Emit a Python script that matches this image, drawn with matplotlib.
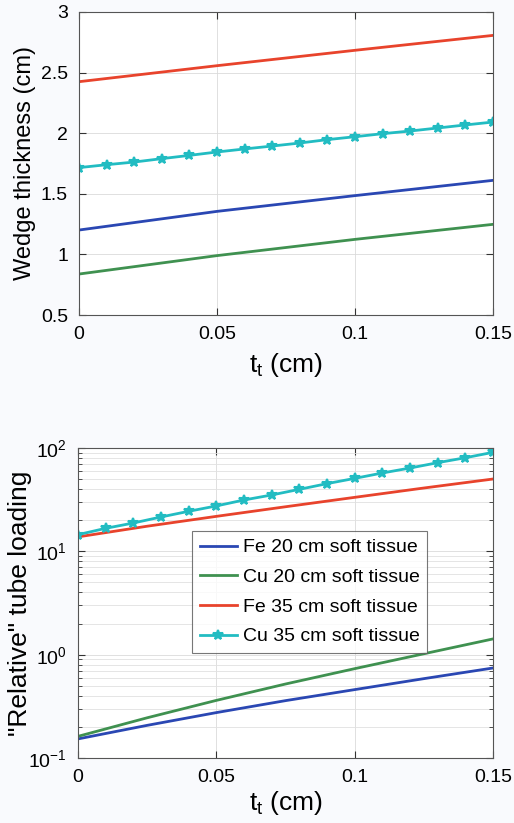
import numpy as np
import matplotlib.pyplot as plt

plt.rcParams['font.family'] = ['Liberation Sans', 'DejaVu Sans']

# top panel: wedge thickness (cm)
t_coarse = [0.0, 0.05, 0.1, 0.15]
wedge_fe20 = [1.201, 1.355, 1.485, 1.611]
wedge_cu20 = [0.838, 0.990, 1.124, 1.248]
wedge_fe35 = [2.425, 2.557, 2.684, 2.807]
t_fine = [0.0, 0.01, 0.02, 0.03, 0.04, 0.05, 0.06, 0.07, 0.08,
          0.09, 0.10, 0.11, 0.12, 0.13, 0.14, 0.15]
wedge_cu35 = [1.716, 1.740, 1.762, 1.790, 1.817, 1.845, 1.870, 1.894,
              1.919, 1.947, 1.971, 1.996, 2.018, 2.043, 2.068, 2.092]

# bottom panel: relative tube loading
t_mid = [0.0, 0.025, 0.05, 0.075, 0.1, 0.125, 0.15]
load_fe20 = [0.153, 0.207, 0.275, 0.359, 0.459, 0.586, 0.743]
load_cu20 = [0.162, 0.245, 0.361, 0.52, 0.732, 1.02, 1.42]
load_fe35 = [13.8, 17.5, 21.8, 27.0, 33.3, 41.0, 50.1]
load_cu35 = [14.5, 16.7, 18.8, 21.5, 24.4, 27.5, 31.4, 35.1,
             39.8, 45.2, 50.8, 57.3, 64.0, 72.1, 80.5, 90.8]

labels = ['Fe 20 cm soft tissue', 'Cu 20 cm soft tissue',
          'Fe 35 cm soft tissue', 'Cu 35 cm soft tissue']
colors = ['#2a47b3', '#3f9150', '#e8432c', '#22bcc2']

fig = plt.figure(figsize=(5.14, 8.23), dpi=100, facecolor='#f9fafd')
ax1 = fig.add_axes([79/514, 1 - 315/823, 414/514, 303/823])
ax2 = fig.add_axes([78/514, 1 - 758/823, 415/514, 310/823])

lw = 2.0
ax1.plot(t_coarse, wedge_fe20, color=colors[0], lw=lw)
ax1.plot(t_coarse, wedge_cu20, color=colors[1], lw=lw)
ax1.plot(t_coarse, wedge_fe35, color=colors[2], lw=lw)
ax1.plot(t_fine, wedge_cu35, color=colors[3], lw=lw, marker='*', ms=7, mew=1.5)

ax2.plot(t_mid, load_fe20, color=colors[0], lw=lw, label=labels[0])
ax2.plot(t_mid, load_cu20, color=colors[1], lw=lw, label=labels[1])
ax2.plot(t_mid, load_fe35, color=colors[2], lw=lw, label=labels[2])
ax2.plot(t_fine, load_cu35, color=colors[3], lw=lw, marker='*', ms=7, mew=1.5,
         label=labels[3])

ax1.set_xlim(0, 0.15)
ax1.set_ylim(0.5, 3)
ax1.set_xticks([0, 0.05, 0.1, 0.15])
ax1.set_xticklabels(['0', '0.05', '0.1', '0.15'])
ax1.set_yticks([0.5, 1, 1.5, 2, 2.5, 3])
ax1.set_yticklabels(['0.5', '1', '1.5', '2', '2.5', '3'])
ax1.set_ylabel('Wedge thickness (cm)', fontsize=17)
ax1.yaxis.set_label_coords(-0.104, 0.5)
ax1.set_xlabel(r'$\mathregular{t_t}$ (cm)', fontsize=19, labelpad=6)

ax2.set_yscale('log')
ax2.set_xlim(0, 0.15)
ax2.set_ylim(0.1, 100)
ax2.set_xticks([0, 0.05, 0.1, 0.15])
ax2.set_xticklabels(['0', '0.05', '0.1', '0.15'])
ax2.set_ylabel('"Relative" tube loading', fontsize=19)
ax2.yaxis.set_label_coords(-0.112, 0.5)
ax2.set_xlabel(r'$\mathregular{t_t}$ (cm)', fontsize=19, labelpad=2)
ax2.grid(True, which='minor', axis='y', color='#e0e0e0', lw=0.6)

for ax in (ax1, ax2):
    ax.set_facecolor('white')
    ax.grid(True, which='major', color='#dadada', lw=0.6)
    ax.set_axisbelow(True)
    ax.tick_params(which='both', direction='in', top=True, right=True,
                   labelsize=14, pad=8, color='#333333')
    ax.tick_params(which='major', length=5)
    ax.tick_params(which='minor', length=3)
    for s in ax.spines.values():
        s.set_color('#555555')
        s.set_linewidth(0.8)

leg = ax2.legend(loc='upper left', bbox_to_anchor=(0.275, 0.732), fontsize=14,
                 frameon=True, fancybox=False, handlelength=1.9,
                 handletextpad=0.3, borderpad=0.4, labelspacing=0.62,
                 borderaxespad=0)
leg.get_frame().set_edgecolor('#555555')
leg.get_frame().set_linewidth(0.8)

fig.savefig('out.png', dpi=100, facecolor=fig.get_facecolor())
